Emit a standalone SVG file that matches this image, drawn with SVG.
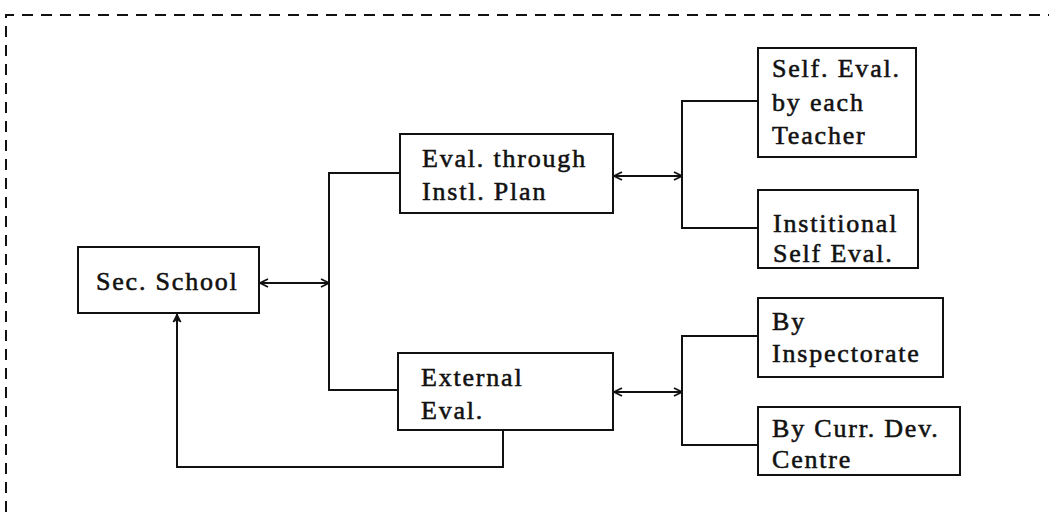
<svg xmlns="http://www.w3.org/2000/svg" width="1049" height="512" viewBox="0 0 1049 512">
<style>
.box{fill:#fff;stroke:#111;stroke-width:2}
.t{font-family:"Liberation Serif",serif;font-size:26px;letter-spacing:1.8px;fill:#111;stroke:#111;stroke-width:0.55px}
.ln{fill:none;stroke:#111;stroke-width:2}
.frame{fill:none;stroke:#111;stroke-width:2;stroke-dasharray:11 8}
</style>
<defs>
<marker id="ah" viewBox="0 0 10 10" refX="9" refY="5" markerWidth="10" markerHeight="10" markerUnits="userSpaceOnUse" orient="auto-start-reverse">
<path d="M1,1 L9,5 L1,9" fill="none" stroke="#111" stroke-width="1.8"/>
</marker>
<marker id="ahf" viewBox="0 0 10 10" refX="9" refY="5" markerWidth="10" markerHeight="10" markerUnits="userSpaceOnUse" orient="auto">
<path d="M1,1 L9,5 L1,9 L3,5 Z" fill="#111" stroke="#111" stroke-width="1"/>
</marker>
</defs>
<rect width="1049" height="512" fill="#fff"/>
<path class="frame" d="M6,512 L6,15 L1049,15"/>
<g id="connectors">
<line class="ln" x1="260" y1="283" x2="329" y2="283" marker-start="url(#ah)" marker-end="url(#ah)"/>
<path class="ln" d="M400,173 H329 V390 H398"/>
<line class="ln" x1="614" y1="176" x2="682" y2="176" marker-start="url(#ah)" marker-end="url(#ah)"/>
<path class="ln" d="M758,101 H682 V228 H758"/>
<line class="ln" x1="614" y1="392" x2="682" y2="392" marker-start="url(#ah)" marker-end="url(#ah)"/>
<path class="ln" d="M758,336 H682 V445 H758"/>
<path class="ln" d="M503,431 V467 H177 V314" marker-end="url(#ahf)"/>
</g>
<g id="sec-school">
<rect class="box" x="78" y="247" width="181" height="66"/>
<text class="t" x="96" y="290">Sec. School</text>
</g>
<g id="eval-instl-plan">
<rect class="box" x="400" y="134" width="213" height="79"/>
<text class="t" x="422" y="167">Eval. through</text>
<text class="t" x="422" y="200">Instl. Plan</text>
</g>
<g id="external-eval">
<rect class="box" x="398" y="353" width="215" height="77"/>
<text class="t" x="421" y="386">External</text>
<text class="t" x="421" y="419">Eval.</text>
</g>
<g id="self-eval-teacher">
<rect class="box" x="758" y="48" width="158" height="109"/>
<text class="t" x="772" y="77">Self. Eval.</text>
<text class="t" x="772" y="111">by each</text>
<text class="t" x="772" y="144">Teacher</text>
</g>
<g id="institutional-self-eval">
<rect class="box" x="758" y="190" width="160" height="78"/>
<text class="t" x="773" y="232">Institional</text>
<text class="t" x="773" y="262">Self Eval.</text>
</g>
<g id="by-inspectorate">
<rect class="box" x="758" y="298" width="185" height="79"/>
<text class="t" x="772" y="330">By</text>
<text class="t" x="772" y="362">Inspectorate</text>
</g>
<g id="by-curr-dev-centre">
<rect class="box" x="758" y="407" width="202" height="68"/>
<text class="t" x="772" y="437">By Curr. Dev.</text>
<text class="t" x="772" y="468">Centre</text>
</g>
</svg>
